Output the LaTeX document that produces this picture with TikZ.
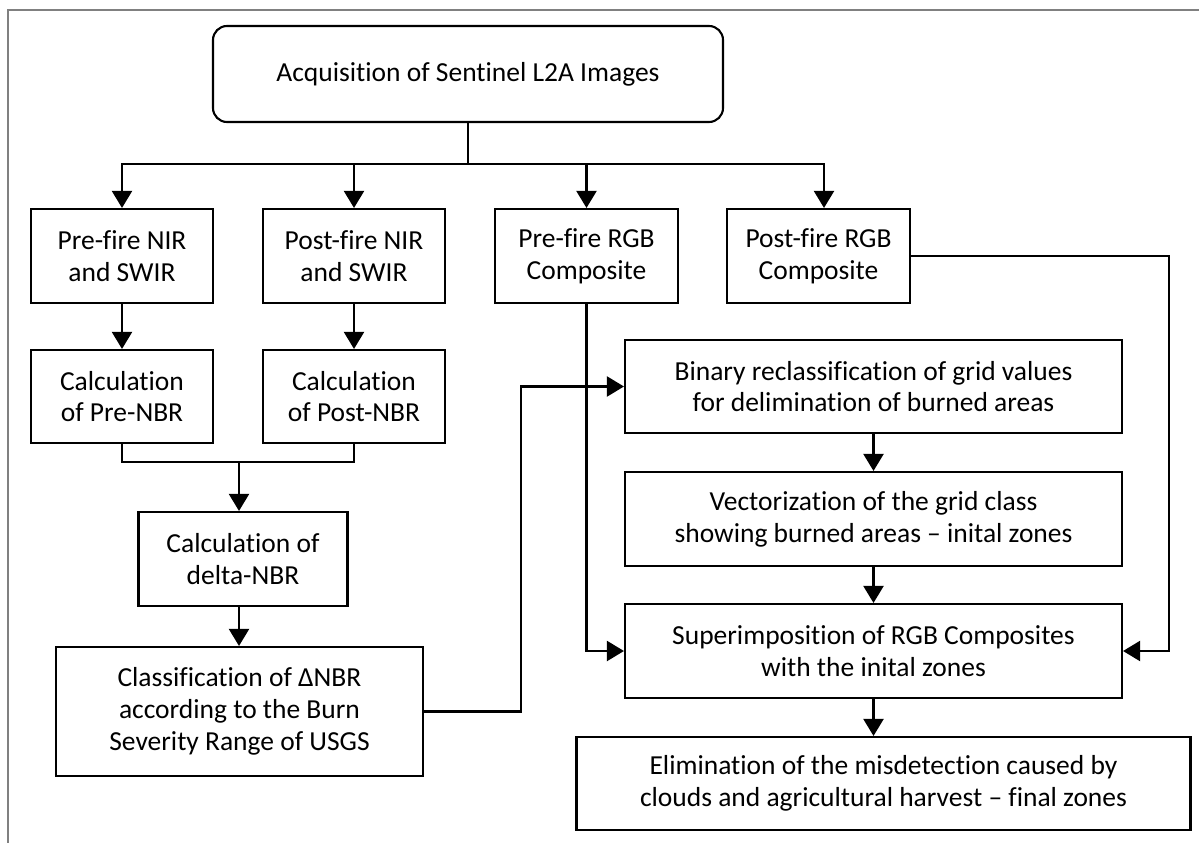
\documentclass[tikz,border=0pt]{standalone}
\usepackage{fontspec}
\setmainfont{Carlito}[Ligatures=NoCommon]
\usetikzlibrary{arrows.meta}

\begin{document}
\begin{tikzpicture}[x=1pt,y=-1pt]
\tikzstyle{every node}+=[inner sep=0pt]
\tikzstyle{stepbox}=[draw,line width=2.1pt,align=center,font=\fontsize{27.5}{31.7}\selectfont]
\tikzstyle{wire}=[line width=2.1pt]
\tikzstyle{link}=[line width=2.1pt,-{Triangle[width=20pt,length=17pt]}]
\useasboundingbox (0,0) rectangle (1199,843);
\draw [gray,line width=1.4pt] (8,843) -- (8,10) -- (1199,10);
\node [stepbox,rounded corners=14pt,minimum width=510pt,minimum height=96pt] (acq) at (468,74) {Acquisition of Sentinel L2A Images};
\node [stepbox,minimum width=182pt,minimum height=94pt] (prenir) at (122,256) {Pre-fire NIR\\and SWIR};
\node [stepbox,minimum width=182pt,minimum height=94pt] (postnir) at (354,256) {Post-fire NIR\\and SWIR};
\node [stepbox,minimum width=183pt,minimum height=94pt] (prergb) at (586.5,256) {Pre-fire RGB\\Composite};
\node [stepbox,minimum width=183pt,minimum height=94pt] (postrgb) at (818.5,256) {Post-fire RGB\\Composite};
\node [stepbox,minimum width=182pt,minimum height=93pt] (precalc) at (122,396.5) {Calculation\\of Pre-NBR};
\node [stepbox,minimum width=182pt,minimum height=93pt] (postcalc) at (354,396.5) {Calculation\\of Post-NBR};
\node [stepbox,minimum width=209pt,minimum height=94pt] (delta) at (243,559) {Calculation of\\delta-NBR};
\node [stepbox,minimum width=367pt,minimum height=129pt] (classif) at (239.5,711.5) {Classification of ΔNBR\\according to the Burn\\Severity Range of USGS};
\node [stepbox,minimum width=497pt,minimum height=93pt] (binary) at (873.5,386.5) {Binary reclassification of grid values\\for delimination of burned areas};
\node [stepbox,minimum width=497pt,minimum height=94pt] (vector) at (873.5,519) {Vectorization of the grid class\\showing burned areas -- inital zones};
\node [stepbox,minimum width=497pt,minimum height=94pt] (superimp) at (873.5,651) {Superimposition of RGB Composites\\with the inital zones};
\node [stepbox,minimum width=614pt,minimum height=93pt] (elim) at (883.5,783.5) {Elimination of the misdetection caused by\\clouds and agricultural harvest -- final zones};
% split below the acquisition box
\coordinate (split) at (468,164);
\draw [wire] (acq) -- (split);
\draw [link] (split) -| (prenir);
\draw [link] (split) -| (postnir);
\draw [link] (split) -| (prergb);
\draw [link] (split) -| ([xshift=5.5pt]postrgb.north);
\draw [link] (prenir) -- (precalc);
\draw [link] (postnir) -- (postcalc);
% merge of the two NBR boxes
\coordinate (merge) at (239,462);
\draw [wire] (precalc) |- (merge) -| (postcalc);
\draw [link] (merge) -- (merge |- delta.north);
\draw [link] (merge |- delta.south) -- (merge |- classif.north);
\draw [link] (classif.east) -| ([xshift=-103pt]binary.west) -- (binary.west);
\draw [link] (prergb) |- (superimp.west);
\draw [link] (postrgb.east) -| ([xshift=46pt]superimp.east) -- (superimp.east);
\draw [link] (binary) -- (vector);
\draw [link] (vector) -- (superimp);
\draw [link] (superimp) -- (superimp |- elim.north);
\end{tikzpicture}
\end{document}
